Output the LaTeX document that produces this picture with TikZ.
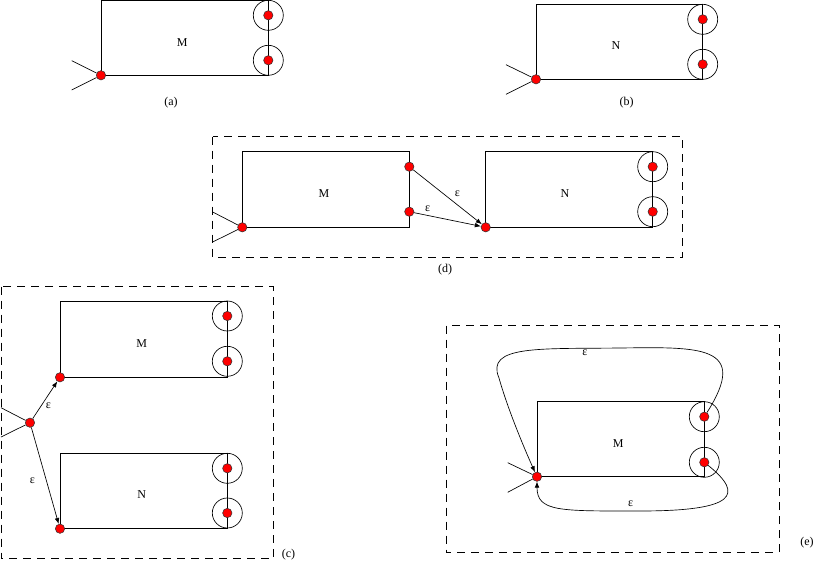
\documentclass[tikz,border=0pt]{standalone}
\usepackage{fontspec}
\setmainfont{Liberation Serif}
\usetikzlibrary{arrows.meta}

\begin{document}
\begin{tikzpicture}[x=0.75pt,y=0.75pt,yscale=-1,xscale=1,
    box/.style={line width=0.65pt},
    frame/.style={line width=0.7pt, dash pattern=on 6pt off 4.5pt},
    ring/.style={circle, draw, line width=0.5pt, minimum size=22.5pt, inner sep=0pt},
    dot/.style={circle, draw=black!80, line width=0.4pt, fill=red, minimum size=7pt, inner sep=0pt},
    eps/.style={line width=0.5pt, -{Latex[length=4.5pt,width=3.5pt]}},
    entry/.style={line width=0.5pt},
    lbl/.style={font=\fontsize{9}{11}\selectfont, inner sep=0pt}]
    \useasboundingbox (0,0) rectangle (815,563);

    %(a)
    %Shape: Rectangle
    \draw [box] (101,0.7) rectangle (268.3,75.3) ;
    \node [ring] (aF1r) at (268.3,15.3) {};
    \node [ring] (aF2r) at (268.3,60.3) {};
    \node [dot] (aF1) at (268.3,15.3) {};
    \node [dot] (aF2) at (268.3,60.3) {};
    \node [dot] (aS) at (101,75.3) {};
    \coordinate (aIn1) at (71.7,60.7) ;
    \coordinate (aIn2) at (71.7,90) ;
    %Straight Lines
    \draw [entry] (aIn1) -- (aS) ;
    \draw [entry] (aIn2) -- (aS) ;
    \node [lbl] (aM) at (182.3,42.7) {M};
    \node [lbl] (aCap) at (171,102.3) {(a)};

    %(b)
    %Shape: Rectangle
    \draw [box] (536,4.7) rectangle (702.7,79.3) ;
    \node [ring] (bF1r) at (702.7,19.3) {};
    \node [ring] (bF2r) at (702.7,64.3) {};
    \node [dot] (bF1) at (702.7,19.3) {};
    \node [dot] (bF2) at (702.7,64.3) {};
    \node [dot] (bS) at (536,79.3) {};
    \coordinate (bIn1) at (506,64.7) ;
    \coordinate (bIn2) at (506,94.3) ;
    %Straight Lines
    \draw [entry] (bIn1) -- (bS) ;
    \draw [entry] (bIn2) -- (bS) ;
    \node [lbl] (bN) at (616,46) {N};
    \node [lbl] (bCap) at (626.7,102.3) {(b)};

    %(d)
    %Shape: Rectangle
    \draw [frame] (212.7,136.7) rectangle (682.7,257.3) ;
    \draw [box] (242.3,151.3) rectangle (409.3,227.3) ;
    \draw [box] (485.7,151.3) rectangle (652.7,227.3) ;
    \node [ring] (dF1r) at (652.7,166.7) {};
    \node [ring] (dF2r) at (652.7,211.7) {};
    \node [dot] (dF1) at (652.7,166.7) {};
    \node [dot] (dF2) at (652.7,211.7) {};
    \node [dot] (dM1) at (409.3,166.7) {};
    \node [dot] (dM2) at (409.3,211.7) {};
    \node [dot] (dS) at (242.3,227.3) {};
    \node [dot] (dNS) at (485.7,227.3) {};
    \coordinate (dIn1) at (212.7,212) ;
    \coordinate (dIn2) at (212.7,242) ;
    %Straight Lines
    \draw [entry] (dIn1) -- (dS) ;
    \draw [entry] (dIn2) -- (dS) ;
    \draw [eps] (dM1) -- (dNS) ;
    \draw [eps] (dM2) -- (dNS) ;
    \node [lbl] (dM) at (324,193.3) {M};
    \node [lbl] (dN) at (565,193.3) {N};
    \node [lbl] (dE1) at (457.3,193.3) {ε};
    \node [lbl] (dE2) at (427.7,208.7) {ε};
    \node [lbl] (dCap) at (445,269.3) {(d)};

    %(c)
    %Shape: Rectangle
    \draw [frame] (1,286.7) rectangle (273.3,558.5) ;
    \draw [box] (60,301.3) rectangle (227.3,377.3) ;
    \draw [box] (60,453.3) rectangle (227.3,528.7) ;
    \node [ring] (cF1r) at (227.3,316) {};
    \node [ring] (cF2r) at (227.3,361.3) {};
    \node [ring] (cF3r) at (227.3,468.3) {};
    \node [ring] (cF4r) at (227.3,513) {};
    \node [dot] (cF1) at (227.3,316) {};
    \node [dot] (cF2) at (227.3,361.3) {};
    \node [dot] (cF3) at (227.3,468.3) {};
    \node [dot] (cF4) at (227.3,513) {};
    \node [dot] (cS) at (30,422.7) {};
    \node [dot] (cMS) at (60,377.3) {};
    \node [dot] (cNS) at (60,528.7) {};
    \coordinate (cIn1) at (1,407.7) ;
    \coordinate (cIn2) at (1,437) ;
    %Straight Lines
    \draw [entry] (cIn1) -- (cS) ;
    \draw [entry] (cIn2) -- (cS) ;
    \draw [eps] (cS) -- (cMS) ;
    \draw [eps] (cS) -- (cNS) ;
    \node [lbl] (cM) at (141.7,343.3) {M};
    \node [lbl] (cN) at (141.7,495) {N};
    \node [lbl] (cE1) at (48.3,406) {ε};
    \node [lbl] (cE2) at (32.3,481) {ε};
    \node [lbl] (cCap) at (288.5,555) {(c)};

    %(e)
    %Shape: Rectangle
    \draw [frame] (446,325.7) rectangle (779.3,552.3) ;
    \draw [box] (537,401) rectangle (704.3,476.7) ;
    \node [ring] (eF1r) at (704.3,416.7) {};
    \node [ring] (eF2r) at (704.3,462.3) {};
    \node [dot] (eF1) at (704.3,416.7) {};
    \node [dot] (eF2) at (704.3,462.3) {};
    \node [dot] (eS) at (537,476.7) {};
    \coordinate (eIn1) at (507.7,462.7) ;
    \coordinate (eIn2) at (507.7,492.3) ;
    %Straight Lines
    \draw [entry] (eIn1) -- (eS) ;
    \draw [entry] (eIn2) -- (eS) ;
    %Curve Lines
    \draw [eps] (eF1) .. controls (750,345) and (700,347) .. (620,348) .. controls (540,349) and (485,345) .. (499,378) .. controls (508,410) and (525,450) .. (eS) ;
    \draw [eps] (eF2) .. controls (745,495) and (735,511) .. (640,511) .. controls (560,511) and (537,512) .. (eS) ;
    \node [lbl] (eM) at (618.3,443.3) {M};
    \node [lbl] (eE1) at (585,353) {ε};
    \node [lbl] (eE2) at (630.7,503.3) {ε};
    \node [lbl] (eCap) at (807,542.3) {(e)};

\end{tikzpicture}
\end{document}
